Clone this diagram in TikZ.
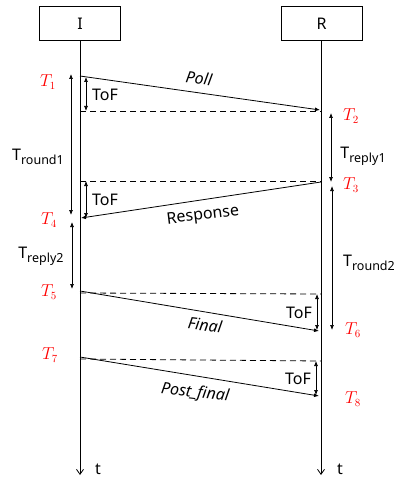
\documentclass[tikz,border=0pt]{standalone}
\usepackage{fontspec}
\setmainfont{Noto Sans}
\usetikzlibrary{arrows.meta}
\newcommand{\sublbl}[2]{#1\raisebox{-0.45ex}{\fontsize{12.5}{13}\selectfont #2}}
\begin{document}
\begin{tikzpicture}[x=1pt,y=-1pt,
  ent/.style={draw, line width=0.9pt, minimum width=81pt, minimum height=34pt, inner sep=0pt, font=\fontsize{16}{18}\selectfont},
  life/.style={line width=0.8pt, -{Straight Barb[length=5pt,width=7pt]}},
  msg/.style={line width=0.8pt, -{Latex[length=5pt,width=4pt]}},
  dsh/.style={line width=0.8pt, dash pattern=on 6pt off 4pt},
  dbl/.style={line width=0.7pt, {Latex[length=5pt,width=4pt]}-{Latex[length=5pt,width=4pt]}},
  lbl/.style={font=\fontsize{16}{18}\selectfont, inner sep=0pt},
  ilbl/.style={font=\fontsize{16}{18}\selectfont\itshape, inner sep=0pt},
  tl/.style={text=red, font=\fontsize{16}{18}\selectfont, inner sep=0pt}]
\useasboundingbox (0,0) rectangle (396,481);
% entities
\node[ent] (I) at (80,23.5) {I};
\node[ent] (R) at (321.5,23.5) {R};
\coordinate (Iend) at (80,475);
\coordinate (Rend) at (321,475);
\draw[life] (I.south) -- (Iend);
\draw[life] (R.south -| Rend) -- (Rend);
\node[lbl] (tI) at (98,469) {t};
\node[lbl] (tR) at (340,469) {t};
% Poll
\coordinate (p1) at (80,76); \coordinate (p2) at (320,110);
\coordinate (d1a) at (80,111); \coordinate (d1b) at (321,111);
\draw[msg] (p1) -- (p2);
\draw[dsh] (d1a) -- (d1b);
\coordinate (tof1a) at (86,77); \coordinate (tof1b) at (86,111);
\draw[dbl] (tof1a) -- (tof1b);
\node[lbl] (tof1) at (105,95) {ToF};
\node[ilbl, rotate=-8] (poll) at (199,78) {Poll};
% Response
\coordinate (r1) at (321,182); \coordinate (r2) at (81,218);
\coordinate (d2a) at (80,181); \coordinate (d2b) at (321,181);
\draw[msg] (r1) -- (r2);
\draw[dsh] (d2a) -- (d2b);
\coordinate (tof2a) at (86,181); \coordinate (tof2b) at (86,218);
\draw[dbl] (tof2a) -- (tof2b);
\node[lbl] (tof2) at (105,200) {ToF};
\node[lbl, rotate=7] (resp) at (203,216) {Response};
% Final
\coordinate (f1) at (80,291); \coordinate (f2) at (319,331);
\coordinate (d3a) at (80,293); \coordinate (d3b) at (321,294);
\draw[msg] (f1) -- (f2);
\draw[dsh] (d3a) -- (d3b);
\coordinate (tof3a) at (317,294); \coordinate (tof3b) at (317,330);
\draw[dbl] (tof3a) -- (tof3b);
\node[lbl] (tof3) at (299,313) {ToF};
\node[ilbl, rotate=-7] (fin) at (205,325) {Final};
% Post_final
\coordinate (g1) at (80,357); \coordinate (g2) at (319,396);
\coordinate (d4a) at (80,359); \coordinate (d4b) at (321,361);
\draw[msg] (g1) -- (g2);
\draw[dsh] (d4a) -- (d4b);
\coordinate (tof4a) at (316,361); \coordinate (tof4b) at (316,395);
\draw[dbl] (tof4a) -- (tof4b);
\node[lbl] (tof4) at (298,379) {ToF};
\node[ilbl, rotate=-7] (pf) at (195,393) {Post\_final};
% intervals
\coordinate (ra1) at (71,74); \coordinate (ra2) at (71,215);
\draw[dbl] (ra1) -- (ra2);
\node[lbl] (tround1) at (38,157) {\sublbl{T}{round1}};
\coordinate (rp2a) at (72,222); \coordinate (rp2b) at (72,289);
\draw[dbl] (rp2a) -- (rp2b);
\node[lbl] (treply2) at (41,256) {\sublbl{T}{reply2}};
\coordinate (rp1a) at (331,113); \coordinate (rp1b) at (331,182);
\draw[dbl] (rp1a) -- (rp1b);
\node[lbl] (treply1) at (363,156) {\sublbl{T}{reply1}};
\coordinate (rb1) at (332,186); \coordinate (rb2) at (332,330);
\draw[dbl] (rb1) -- (rb2);
\node[lbl] (tround2) at (369,263) {\sublbl{T}{round2}};
% time stamps
\node[tl] (T1) at (48,82) {$T_1$};
\node[tl] (T2) at (351,116) {$T_2$};
\node[tl] (T3) at (351,185) {$T_3$};
\node[tl] (T4) at (49,220) {$T_4$};
\node[tl] (T5) at (49,292) {$T_5$};
\node[tl] (T6) at (353,330) {$T_6$};
\node[tl] (T7) at (50,355) {$T_7$};
\node[tl] (T8) at (353,399) {$T_8$};
\end{tikzpicture}
\end{document}
